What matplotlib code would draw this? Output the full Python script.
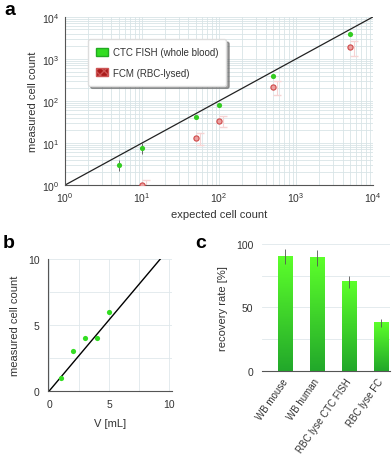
import numpy as np
import matplotlib.pyplot as plt
from matplotlib.patches import Patch
from matplotlib.colors import LinearSegmentedColormap

plt.rcParams['font.family'] = ['Liberation Sans', 'DejaVu Sans']

# panel a
expected_fish = [5, 10, 50, 100, 500, 5000]
measured_fish = [3, 7.5, 42, 80, 400, 4000]
fish_lo = [0.9, 2.0, 4, 6, 30, 300]
fish_hi = [1.0, 2.5, 4, 6, 30, 300]
expected_fcm = [10, 50, 100, 500, 5000]
measured_fcm = [1, 13, 34, 220, 1900]
fcm_err = [0.3, 4, 10, 80, 700]

# panel b
volume = [1, 2, 3, 4, 5]
counts = [1, 3, 4, 4, 6]
fit_slope = 1.08

# panel c
groups = ['WB mouse', 'WB human', 'RBC lyse CTC FISH', 'RBC lyse FC']
recovery = [90, 89, 70, 38]
recovery_err = [6, 6, 5, 3]

txt = '#333333'
gridc = '#d8e4e7'

fig = plt.figure(figsize=(3.92, 4.56), dpi=100)

# ---- a ----
ax = fig.add_axes([0.166, 0.592, 0.786, 0.369])
ax.set_xscale('log')
ax.set_yscale('log')
ax.set_xlim(1, 1e4)
ax.set_ylim(1, 1e4)
ax.grid(True, which='both', color=gridc, lw=0.6)
ax.set_axisbelow(True)
ax.plot([1, 1e4], [1, 1e4], color='#222222', lw=0.9, zorder=2)
ax.errorbar(np.array(expected_fcm) * 1.12, measured_fcm, yerr=fcm_err, fmt='none',
            ecolor='#f6d4d4', elinewidth=0.8, capsize=3, zorder=2)
ax.errorbar(expected_fish, measured_fish, yerr=[fish_lo, fish_hi], fmt='none',
            ecolor='#555555', elinewidth=0.6, zorder=3)
ax.scatter(expected_fish, measured_fish, s=14, color='#33cc22', zorder=4, lw=0)
ax.scatter(expected_fcm, measured_fcm, s=14, facecolor='#eaa0a0', edgecolor='#d04848',
           lw=0.8, zorder=4)
for s in ['top', 'right']:
    ax.spines[s].set_visible(False)
for s in ['left', 'bottom']:
    ax.spines[s].set_color('#555555')
ax.tick_params(which='both', length=0, labelsize=7.5, labelcolor=txt, pad=4)
ax.set_xlabel('expected cell count', fontsize=8, color=txt, labelpad=3)
ax.set_ylabel('measured cell count', fontsize=8, color=txt, labelpad=3)
handles = [Patch(facecolor='#33dd22', edgecolor='#22aa22'),
           Patch(facecolor='#aa1a1a', edgecolor='#cc5555', hatch='xxxx')]
leg = ax.legend(handles, ['CTC FISH (whole blood)', 'FCM (RBC-lysed)'],
                loc='upper left', bbox_to_anchor=(0.058, 0.895), fontsize=7,
                fancybox=True, shadow=True, framealpha=1, edgecolor='#dddddd',
                handlelength=1.3, handleheight=0.9, labelspacing=1.1,
                borderpad=0.8, handletextpad=0.5)
for t in leg.get_texts():
    t.set_color(txt)
fig.text(0.01, 0.978, 'a', fontsize=14, fontweight='bold', va='center')

# ---- b ----
bx = fig.add_axes([0.122, 0.14, 0.316, 0.29])
bx.set_xlim(-0.1, 10.2)
bx.set_ylim(0, 10)
bx.set_xticks([0, 5, 10])
bx.set_yticks([0, 5, 10])
bx.set_xticks([2.5, 7.5], minor=True)
bx.set_yticks([2.5, 7.5], minor=True)
bx.grid(True, which='both', color='#dfe8eb', lw=0.6)
bx.set_axisbelow(True)
xf = np.array([0, 10 / fit_slope])
bx.plot(xf, fit_slope * xf, color='black', lw=1, zorder=2)
bx.scatter(volume, counts, s=14, color='#33dd22', lw=0, zorder=3)
for s in ['top', 'right']:
    bx.spines[s].set_visible(False)
for s in ['left', 'bottom']:
    bx.spines[s].set_color('#555555')
bx.tick_params(which='both', length=0, labelsize=7.5, labelcolor=txt, pad=6)
bx.set_xlabel('V [mL]', fontsize=8, color=txt, labelpad=6)
bx.set_ylabel('measured cell count', fontsize=8, color=txt, labelpad=6)
fig.text(0.008, 0.465, 'b', fontsize=14, fontweight='bold', va='center')

# ---- c ----
cx = fig.add_axes([0.668, 0.184, 0.327, 0.279])
xpos = np.arange(len(groups))
w = 0.47
cmap = LinearSegmentedColormap.from_list('g', ['#22a82a', '#5cff2a'])
grad = np.linspace(0, 1, 100).reshape(-1, 1)
for xi, v in zip(xpos, recovery):
    cx.imshow(grad, extent=[xi - w / 2, xi + w / 2, 0, v], origin='lower',
              aspect='auto', cmap=cmap, zorder=2)
cx.errorbar(xpos, recovery, yerr=recovery_err, fmt='none', ecolor='#555555',
            elinewidth=0.6, zorder=3)
cx.set_xlim(-0.74, 3.28)
cx.set_ylim(0, 100)
cx.set_yticks([0, 50, 100])
cx.set_yticks([25, 75], minor=True)
cx.grid(True, axis='y', which='both', color='#dfe8eb', lw=0.6)
cx.set_axisbelow(True)
cx.set_xticks(xpos)
cx.set_xticklabels(groups, rotation=55, ha='right', va='center',
                   rotation_mode='anchor', fontsize=7)
for s in ['top', 'right', 'left']:
    cx.spines[s].set_visible(False)
cx.spines['bottom'].set_color('#555555')
cx.tick_params(axis='y', which='both', length=0, labelsize=7.5, labelcolor=txt, pad=6)
cx.tick_params(axis='x', which='both', length=0, labelcolor=txt, pad=6)
cx.set_ylabel('recovery rate [%]', fontsize=8, color=txt, labelpad=6)
fig.text(0.497, 0.465, 'c', fontsize=14, fontweight='bold', va='center')

fig.savefig('out.png', dpi=100)
